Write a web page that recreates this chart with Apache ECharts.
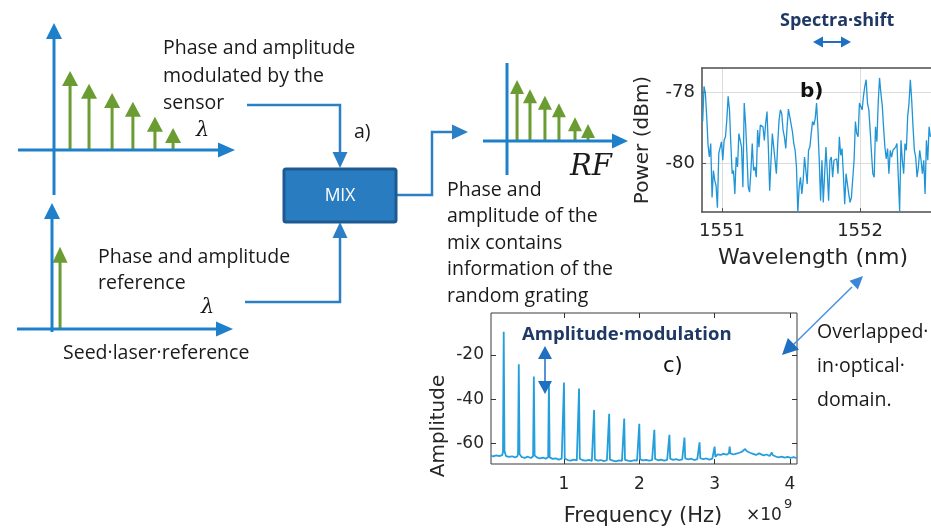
<!DOCTYPE html>
<html>
<head>
<meta charset="utf-8">
<script src="https://cdn.jsdelivr.net/npm/echarts@6/dist/echarts.min.js"></script>
<style>
  html, body { margin: 0; padding: 0; background: #fff; }
  #chart { width: 931px; height: 529px; }
</style>
</head>
<body>
<div id="chart"></div>
<script>
// ---- stem diagrams (relative amplitudes) ----
var TOP_STEM_POS = [0.78, 1.70, 2.82, 3.83, 4.90, 5.78];
var TOP_STEM_AMP = [1.0, 0.84, 0.72, 0.61, 0.42, 0.28];
var REF_STEM_POS = [0.39];
var REF_STEM_AMP = [1.04];
var RF_STEM_POS = [0.74, 1.69, 2.79, 3.82, 5.0, 5.96];
var RF_STEM_AMP = [1.0, 0.85, 0.74, 0.62, 0.39, 0.28];

// ---- b) optical spectrum ----
var WL_FIRST = 1550.86;
var WL_LAST = 1552.51;
var POWER = [
  -78.83, -77.84, -78.03, -78.69, -79.50, -79.83, -79.45, -80.97, -80.21, -80.49,
  -80.64, -81.26, -79.73, -79.78, -79.40, -79.92, -79.36, -79.26, -78.79, -78.12,
  -78.50, -79.45, -80.30, -80.21, -80.87, -79.83, -80.11, -79.17, -79.12, -79.55,
  -80.68, -78.31, -78.88, -79.73, -80.68, -80.82, -80.21, -79.45, -80.21, -80.11,
  -80.40, -79.07, -79.55, -78.93, -78.88, -78.98, -79.36, -78.88, -78.55, -79.55,
  -80.78, -79.92, -79.17, -79.55, -79.92, -80.30, -79.45, -78.79, -78.50, -78.60,
  -79.07, -79.26, -79.59, -78.98, -78.48, -78.69, -78.74, -79.12, -79.45, -79.64,
  -80.11, -81.38, -80.68, -80.40, -80.87, -80.49, -79.83, -79.78, -80.59, -79.64,
  -79.55, -79.17, -78.83, -78.93, -78.74, -78.31, -79.02, -79.92, -81.06, -79.92,
  -81.11, -81.16, -79.55, -80.26, -81.06, -79.92, -79.83, -80.40, -79.92, -79.92,
  -79.88, -80.30, -79.26, -79.78, -79.59, -80.30, -81.16, -80.30, -80.30, -80.87,
  -81.11, -80.97, -80.97, -79.92, -78.83, -79.17, -79.26, -78.31, -78.36, -78.50,
  -78.12, -77.84, -77.65, -78.31, -78.50, -79.07, -79.73, -80.30, -80.40, -78.98,
  -79.40, -78.31, -77.60, -78.03, -78.36, -78.98, -79.55, -79.88, -79.59, -80.30,
  -79.64, -79.83, -79.64, -79.59, -79.55, -79.45, -80.40, -81.35, -79.36, -79.92,
  -80.30, -79.45, -79.64, -78.69, -78.31, -77.65, -78.22, -78.98, -79.64, -79.83,
  -80.40, -80.11, -79.64, -79.92, -80.30, -79.92, -80.87, -79.36, -79.92, -78.98,
  -79.26
];
var B_XTICKS = [1551, 1552];
var B_YTICKS = [-80, -78];

// ---- c) RF spectrum (frequency in units of 1e9 Hz) ----
var C_FREQ = [
  0.031, 0.06, 0.1, 0.14, 0.18, 0.19, 0.2, 0.21, 0.23, 0.27, 0.31, 0.35, 0.38, 0.39, 0.4, 0.41,
  0.44, 0.48, 0.52, 0.56, 0.59, 0.6, 0.61, 0.64, 0.68, 0.72, 0.76, 0.79, 0.8, 0.81,
  0.85, 0.89, 0.93, 0.97, 0.99, 1.0, 1.01, 1.05, 1.09, 1.13, 1.17, 1.19, 1.2, 1.21,
  1.25, 1.29, 1.33, 1.37, 1.39, 1.4, 1.41, 1.45, 1.49, 1.53, 1.57, 1.59, 1.6, 1.61,
  1.65, 1.69, 1.73, 1.77, 1.79, 1.8, 1.81, 1.85, 1.89, 1.93, 1.97, 1.99, 2.0, 2.01,
  2.05, 2.09, 2.13, 2.17, 2.19, 2.2, 2.21, 2.25, 2.29, 2.33, 2.37, 2.39, 2.4, 2.41,
  2.45, 2.49, 2.53, 2.57, 2.59, 2.6, 2.61, 2.65, 2.69, 2.73, 2.77, 2.79, 2.8, 2.81,
  2.85, 2.89, 2.93, 2.97, 2.99, 3.0, 3.01, 3.04, 3.08, 3.12, 3.16, 3.19, 3.2, 3.21,
  3.25, 3.29, 3.33, 3.37, 3.4, 3.43, 3.47, 3.51, 3.55, 3.59, 3.6, 3.61, 3.65, 3.69,
  3.73, 3.76, 3.77, 3.81, 3.85, 3.89, 3.93, 3.97, 4.01, 4.05, 4.094
];
var C_AMP = [
  -65.6, -65.9, -65.5, -65.8, -65.4, -64.0, -9.5, -63.5, -65.8, -66.2, -65.9, -66.4, -66.0, -64.8, -24.2, -64.9,
  -66.3, -66.6, -66.1, -66.7, -65.9, -29.8, -65.5, -66.4, -66.9, -66.5, -67.0, -66.2, -32.1, -66.4,
  -67.1, -66.8, -67.4, -67.0, -66.5, -32.5, -66.9, -67.6, -67.9, -67.4, -67.8, -66.9, -35.2, -67.0,
  -67.7, -67.9, -67.5, -68.0, -67.2, -44.9, -67.3, -67.9, -67.6, -68.1, -67.7, -67.2, -46.7, -67.4,
  -67.9, -68.2, -67.8, -68.0, -67.3, -48.8, -67.5, -67.9, -68.1, -67.7, -67.9, -67.2, -51.2, -67.3,
  -67.8, -67.5, -67.9, -67.6, -67.0, -53.9, -67.1, -67.7, -67.4, -67.9, -67.5, -66.8, -56.2, -67.0,
  -67.5, -67.2, -67.7, -67.3, -66.7, -57.4, -66.9, -67.3, -67.0, -67.6, -67.2, -66.6, -59.6, -66.8,
  -67.2, -66.9, -67.4, -67.0, -66.4, -61.5, -66.2, -65.0, -65.3, -64.8, -65.2, -64.5, -61.5, -64.6,
  -65.1, -64.7, -64.3, -63.7, -62.6, -63.6, -64.3, -64.8, -65.3, -64.6, -63.8, -64.8, -65.5, -65.1,
  -65.8, -64.2, -65.3, -66.0, -66.4, -66.1, -66.5, -66.2, -66.6, -66.3, -66.8
];
var C_XTICKS = [1, 2, 3, 4];
var C_YTICKS = [-60, -40, -20];

var GREEN = '#6a9c32';
var AXBLUE = '#1e80cb';
var LINEBLUE = '#2c7fc4';
var NAVY = '#1f3864';
var TXT = '#1a1a1a';
var PLOTTXT = '#262626';

var chart = echarts.init(document.getElementById('chart'));

var bData = POWER.map(function (p, i) {
  return [WL_FIRST + i * (WL_LAST - WL_FIRST) / (POWER.length - 1), p];
});
var cData = C_FREQ.map(function (f, i) { return [f, C_AMP[i]]; });

function stemSeries(idx, pos, amp, hw, hh) {
  return {
    type: 'custom',
    xAxisIndex: idx,
    yAxisIndex: idx,
    silent: true,
    z: 3,
    data: pos.map(function (p, i) { return [p, amp[i]]; }),
    renderItem: function (params, api) {
      var base = api.coord([api.value(0), 0]);
      var tip = api.coord([api.value(0), api.value(1)]);
      return {
        type: 'group',
        children: [
          { type: 'line', shape: { x1: base[0], y1: base[1], x2: tip[0], y2: tip[1] + hh - 1 },
            style: { stroke: GREEN, lineWidth: 3 } },
          { type: 'polygon', shape: { points: [[tip[0], tip[1]], [tip[0] - hw, tip[1] + hh], [tip[0] + hw, tip[1] + hh]] },
            style: { fill: GREEN } }
        ]
      };
    }
  };
}

// small drawing helpers for the block diagram
function seg(points, color, w) {
  return { type: 'polyline', silent: true, z: 10, shape: { points: points },
    style: { stroke: color, lineWidth: w, fill: null } };
}
function head(tip, from, len, half, color) {
  var dx = tip[0] - from[0], dy = tip[1] - from[1];
  var d = Math.sqrt(dx * dx + dy * dy);
  dx /= d; dy /= d;
  var bx = tip[0] - dx * len, by = tip[1] - dy * len;
  return { type: 'polygon', silent: true, z: 10,
    shape: { points: [tip, [bx - dy * half, by + dx * half], [bx + dy * half, by - dx * half]] },
    style: { fill: color } };
}
function txt(text, x, y, size, opt) {
  opt = opt || {};
  return { type: 'text', silent: true, z: 20, x: x, y: y, rotation: opt.rot || 0,
    style: { text: text, fill: opt.color || TXT, fontSize: size,
      fontFamily: opt.family || 'Open Sans', fontWeight: opt.weight || 'normal',
      fontStyle: opt.style || 'normal',
      align: opt.align || 'left', verticalAlign: 'middle',
      textAlign: opt.align || 'left', textVerticalAlign: 'middle' } };
}

var FS = 19.5;
var graphics = [
  // top-left axes
  seg([[54, 195], [54, 38]], AXBLUE, 3),
  head([54, 23], [54, 60], 16, 8, AXBLUE),
  seg([[18, 150], [220, 150]], AXBLUE, 3),
  head([235, 150], [200, 150], 17, 7.5, AXBLUE),
  // bottom-left axes
  seg([[52, 332], [52, 218]], AXBLUE, 3),
  head([52, 203], [52, 240], 16, 8, AXBLUE),
  seg([[17, 329], [218, 329]], AXBLUE, 3),
  head([233, 329], [200, 329], 17, 7.5, AXBLUE),
  // RF axes
  seg([[507, 175], [507, 63]], AXBLUE, 3),
  seg([[483, 141], [613, 141]], AXBLUE, 3),
  head([628, 141], [600, 141], 16, 7.5, AXBLUE),
  // connectors
  seg([[247, 105], [340, 105], [340, 153]], LINEBLUE, 2.5),
  head([340, 168], [340, 140], 16, 7.5, LINEBLUE),
  seg([[245, 302], [340, 302], [340, 237]], LINEBLUE, 2.5),
  head([340, 222], [340, 260], 16, 7.5, LINEBLUE),
  seg([[397, 195], [432, 195], [432, 132], [453, 132]], LINEBLUE, 2.5),
  head([468, 132], [440, 132], 16, 7.5, LINEBLUE),
  // MIX box
  { type: 'rect', silent: true, z: 12, shape: { x: 284, y: 169, width: 112, height: 53, r: 2 },
    style: { fill: '#2a7cc1', stroke: '#1d5a91', lineWidth: 3 } },
  txt('MIX', 340, 196, 17.5, { color: '#ffffff', align: 'center' }),
  txt('a)', 354, 132, FS),
  // diagram texts
  txt('Phase and amplitude', 163, 48, FS),
  txt('modulated by the', 163, 76, FS),
  txt('sensor', 163, 103, FS),
  txt('\u03bb', 196, 131, 21, { family: 'DejaVu Serif', style: 'italic' }),
  txt('Phase and amplitude', 98, 257, FS),
  txt('reference', 98, 283, FS),
  txt('\u03bb', 201, 308, 21, { family: 'DejaVu Serif', style: 'italic' }),
  txt('Seed\u00b7laser\u00b7reference', 63, 353, FS),
  txt('RF', 570, 167, 29, { family: 'DejaVu Serif', style: 'italic' }),
  txt('Phase and', 447, 190, FS),
  txt('amplitude of the', 447, 216, FS),
  txt('mix contains', 447, 243, FS),
  txt('information of the', 447, 269, FS),
  txt('random grating', 447, 296, FS),
  txt('Overlapped\u00b7', 817, 332, FS),
  txt('in\u00b7optical\u00b7', 817, 366, FS),
  txt('domain.', 817, 400, FS),
  // annotations
  txt('Spectra\u00b7shift', 780, 21, 18, { color: NAVY, weight: 'bold' }),
  seg([[822, 42], [842, 42]], '#1f6fc3', 2),
  head([813, 42], [830, 42], 10, 5.5, '#1f6fc3'),
  head([851, 42], [830, 42], 10, 5.5, '#1f6fc3'),
  txt('Amplitude\u00b7modulation', 522, 335, 18.5, { color: NAVY, weight: 'bold' }),
  seg([[545, 358], [545, 382]], '#1f6fc3', 1.5),
  head([545, 346], [545, 370], 13, 7, '#1f6fc3'),
  head([545, 394], [545, 370], 13, 7, '#1f6fc3'),
  seg([[852, 287], [792, 346]], '#4a90dc', 1.5),
  head([863, 276], [820, 318], 13, 6, '#3b86d8'),
  head([782, 355], [820, 318], 16, 8, '#1f6fc3'),
  // plot texts
  txt('b)', 800, 92, 20, { family: 'DejaVu Sans', weight: 'bold', color: '#111' }),
  txt('Power (dBm)', 643, 140, 20, { family: 'DejaVu Sans', color: PLOTTXT, align: 'center', rot: Math.PI / 2 }),
  txt('Wavelength (nm)', 813, 258, 22, { family: 'DejaVu Sans', color: PLOTTXT, align: 'center' }),
  txt('c)', 663, 367, 21, { family: 'DejaVu Sans', color: '#111' }),
  txt('Amplitude', 439, 426, 20, { family: 'DejaVu Sans', color: PLOTTXT, align: 'center', rot: Math.PI / 2 }),
  txt('Frequency (Hz)', 643, 517, 21, { family: 'DejaVu Sans', color: PLOTTXT, align: 'center' }),
  txt('\u00d710', 746, 516, 17, { family: 'DejaVu Sans', color: PLOTTXT }),
  txt('9', 784, 505, 13, { family: 'DejaVu Sans', color: PLOTTXT })
];

function hiddenAxis(idx, max) {
  return { gridIndex: idx, type: 'value', min: 0, max: max, show: false };
}
function tickFmt(v) { return String(v); }

var B_XMIN = 1550.855, B_XMAX = 1552.514;
var frameB = { show: true, lineStyle: { color: '#4d4d4d', width: 1.5 } };

var option = {
  backgroundColor: '#ffffff',
  animation: false,
  grid: [
    { left: 54, top: 71, width: 206, height: 79 },
    { left: 52, top: 250, width: 206, height: 79 },
    { left: 507, top: 80, width: 136, height: 61 },
    { left: 702, top: 68, right: 0, height: 144 },
    { left: 491, top: 313, width: 306, height: 151, show: true, borderColor: '#3a3a3a', borderWidth: 1, backgroundColor: '#fff' }
  ],
  xAxis: [
    hiddenAxis(0, 10),
    hiddenAxis(1, 10),
    hiddenAxis(2, 10),
    { gridIndex: 3, type: 'value', min: B_XMIN, max: B_XMAX,
      axisLine: frameB,
      axisTick: { inside: true, length: 4, customValues: B_XTICKS, lineStyle: { color: '#555' } },
      axisLabel: { customValues: B_XTICKS, formatter: tickFmt, margin: 10, fontFamily: 'DejaVu Sans', fontSize: 18, color: PLOTTXT },
      splitLine: { show: true, lineStyle: { color: '#dcdcdc' } } },
    { gridIndex: 3, type: 'value', position: 'top', min: B_XMIN, max: B_XMAX,
      axisLine: frameB, axisTick: { show: false }, axisLabel: { show: false }, splitLine: { show: false } },
    { gridIndex: 4, type: 'value', min: 0.031, max: 4.094,
      axisLine: { show: false },
      axisTick: { inside: true, length: 5, customValues: C_XTICKS, lineStyle: { color: '#333' } },
      axisLabel: { customValues: C_XTICKS, formatter: tickFmt, margin: 12, fontFamily: 'DejaVu Sans', fontSize: 17, color: PLOTTXT },
      splitLine: { show: false } },
    { gridIndex: 4, type: 'value', position: 'top', min: 0.031, max: 4.094,
      axisLine: { show: false },
      axisTick: { inside: true, length: 5, customValues: C_XTICKS, lineStyle: { color: '#333' } },
      axisLabel: { show: false },
      splitLine: { show: false } }
  ],
  yAxis: [
    hiddenAxis(0, 1),
    hiddenAxis(1, 1),
    hiddenAxis(2, 1),
    { gridIndex: 3, type: 'value', min: -81.38, max: -77.32,
      axisLine: frameB,
      axisTick: { inside: true, length: 4, customValues: B_YTICKS, lineStyle: { color: '#555' } },
      axisLabel: { customValues: B_YTICKS, formatter: tickFmt, margin: 7, fontFamily: 'DejaVu Sans', fontSize: 18, color: PLOTTXT },
      splitLine: { show: true, lineStyle: { color: '#dcdcdc' } } },
    { gridIndex: 4, type: 'value', min: -69.4, max: -1.0,
      axisLine: { show: false },
      axisTick: { inside: true, length: 5, customValues: C_YTICKS, lineStyle: { color: '#333' } },
      axisLabel: { customValues: C_YTICKS, formatter: tickFmt, margin: 7, fontFamily: 'DejaVu Sans', fontSize: 17, color: PLOTTXT },
      splitLine: { show: false } },
    { gridIndex: 4, type: 'value', position: 'right', min: -69.4, max: -1.0,
      axisLine: { show: false },
      axisTick: { inside: true, length: 5, customValues: C_YTICKS, lineStyle: { color: '#333' } },
      axisLabel: { show: false },
      splitLine: { show: false } }
  ],
  series: [
    stemSeries(0, TOP_STEM_POS, TOP_STEM_AMP, 8, 15),
    stemSeries(1, REF_STEM_POS, REF_STEM_AMP, 7.5, 16),
    stemSeries(2, RF_STEM_POS, RF_STEM_AMP, 7, 14),
    { type: 'line', xAxisIndex: 3, yAxisIndex: 3, data: bData, showSymbol: false, silent: true,
      lineStyle: { color: '#1f94d6', width: 1.3 } },
    { type: 'line', xAxisIndex: 5, yAxisIndex: 4, data: cData, showSymbol: false, silent: true,
      lineStyle: { color: '#259fdc', width: 1.8 } }
  ],
  graphic: graphics
};

chart.setOption(option);
</script>
</body>
</html>
